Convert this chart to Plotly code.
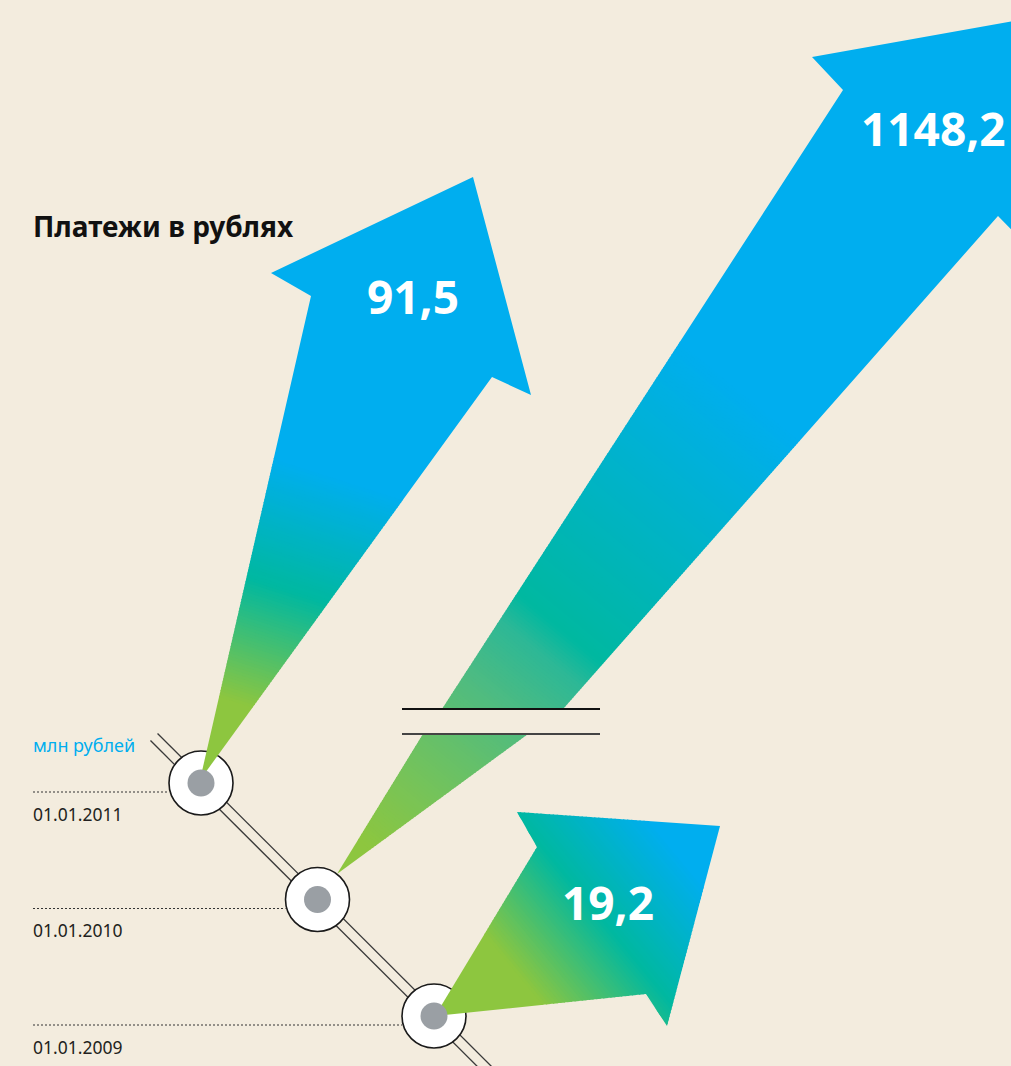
import plotly.graph_objects as go

# ---------------- data ----------------
TITLE = "Платежи в рублях"
UNIT = "млн рублей"
DATES = ["01.01.2009", "01.01.2010", "01.01.2011"]
VALUES = [19.2, 1148.2, 91.5]
VALUE_LABELS = [f"{v:.1f}".replace(".", ",") for v in VALUES]

# ---------------- style ----------------
W, H = 1011, 1066
BG = "#F3ECDE"
GREEN, TEAL, BLUE = "#8DC63F", "#00B8A0", "#00AEEF"
INK = "#231F20"
FONT = "Noto Sans"

# timeline: index 0 (first date) is the lowest circle; each later date steps up-left
TL_ORIGIN = (434.0, 1016.0)
TL_STEP = (-116.5, -116.5)
R_OUT, R_IN = 32, 13.5

# arrow templates: offsets from each date's timeline point
ARROWS = {
    "01.01.2011": dict(
        polys=[[(-1, -3), (110, -487), (70, -510), (272, -606), (330, -388), (291, -406)]],
        origin=(-1, -3), u=(0.305, -0.952),
        stops=[(0, GREEN), (85, GREEN), (207, TEAL), (330, BLUE)],
        label=(212, -487), top=True),
    "01.01.2010": dict(
        polys=[[(19.5, -25.5), (105.5, -165.5), (210.5, -165.5)],
               [(124.5, -190.5), (525.5, -809.5), (494.5, -842.5), (772, -892),
                (742, -621), (680.5, -683.5), (245.5, -190.5)]],
        origin=(19.5, -25.5), u=(0.636, -0.772),
        stops=[(0, GREEN), (40, GREEN), (124, "#75C35A"), (238, "#4DBB82"),
               (300, "#2DB896"), (331, TEAL), (630, BLUE)],
        label=(615.5, -771.5), top=False,
        brk=dict(x0=84.5, x1=282.5, y=(-190.5, -165.5))),
    "01.01.2009": dict(
        polys=[[(1, 0), (103, -169), (83, -204), (286, -190), (233, 10), (212, -22)]],
        origin=(1, 0), u=(0.771, -0.637),
        stops=[(0, GREEN), (90, GREEN), (190, TEAL), (290, BLUE)],
        label=(173.5, -114), top=True),
}


def hex2rgb(h):
    h = h.lstrip("#")
    return tuple(int(h[i:i + 2], 16) for i in (0, 2, 4))


def color_at(s, stops):
    if s <= stops[0][0]:
        return stops[0][1]
    if s >= stops[-1][0]:
        return stops[-1][1]
    for (s0, c0), (s1, c1) in zip(stops[:-1], stops[1:]):
        if s0 <= s <= s1:
            t = 0 if s1 == s0 else (s - s0) / (s1 - s0)
            a, b = hex2rgb(c0), hex2rgb(c1)
            r = [round(a[i] + (b[i] - a[i]) * t) for i in range(3)]
            return "rgb(%d,%d,%d)" % tuple(r)
    return stops[-1][1]


def clip_half(poly, o, u, c, keep_ge):
    def f(p):
        s = (p[0] - o[0]) * u[0] + (p[1] - o[1]) * u[1]
        return s - c if keep_ge else c - s
    out = []
    n = len(poly)
    for i in range(n):
        P, Q = poly[i], poly[(i + 1) % n]
        fp, fq = f(P), f(Q)
        if fp >= 0:
            out.append(P)
        if (fp >= 0) != (fq >= 0):
            t = fp / (fp - fq)
            out.append((P[0] + t * (Q[0] - P[0]), P[1] + t * (Q[1] - P[1])))
    return out


def path_of(poly):
    return "M " + " L ".join("%.2f,%.2f" % p for p in poly) + " Z"


def gradient_shapes(poly, o, u, stops, step=3.0):
    proj = [(p[0] - o[0]) * u[0] + (p[1] - o[1]) * u[1] for p in poly]
    smin, smax = min(proj) - 1, max(proj) + 1
    g0, g1 = stops[1][0], stops[-1][0]
    edges = [smin]
    s = max(g0, smin)
    while s < min(g1, smax):
        edges.append(s)
        s += step
    edges.append(smax)
    edges = sorted(set(edges))
    shapes = []
    for a, b in zip(edges[:-1], edges[1:]):
        piece = clip_half(poly, o, u, a, True)
        if len(piece) < 3:
            continue
        piece = clip_half(piece, o, u, b + 1.0, False)
        if len(piece) < 3:
            continue
        col = color_at((a + b) / 2, stops)
        shapes.append(dict(type="path", path=path_of(piece), xref="x", yref="y",
                           fillcolor=col, line=dict(width=0), layer="above"))
    return shapes


pos = {d: (TL_ORIGIN[0] + i * TL_STEP[0], TL_ORIGIN[1] + i * TL_STEP[1])
       for i, d in enumerate(DATES)}

shapes, annotations = [], []

# double diagonal timeline
first, last = pos[DATES[-1]], pos[DATES[0]]
for off in (-5, 5):
    dx, dy = off / 2 ** 0.5, -off / 2 ** 0.5
    shapes.append(dict(type="line", xref="x", yref="y",
                       x0=first[0] - 47 + dx, y0=first[1] - 46 + dy,
                       x1=last[0] + 56 + dx, y1=last[1] + 56 + dy,
                       line=dict(color="#3a3a3a", width=1.3), layer="above"))

# dotted leader lines and date labels
for d in DATES:
    cx, cy = pos[d]
    shapes.append(dict(type="line", xref="x", yref="y", x0=33, x1=cx - R_OUT,
                       y0=cy + 9, y1=cy + 9,
                       line=dict(color="#333333", width=1, dash="2px,2px"), layer="above"))
    annotations.append(dict(x=31, y=cy + 30.5, xref="x", yref="y", text=d, showarrow=False,
                            xanchor="left", yanchor="middle",
                            font=dict(family=FONT, size=17.5, color=INK)))


def arrow_shapes(d):
    a = ARROWS[d]
    cx, cy = pos[d]
    o = (cx + a["origin"][0], cy + a["origin"][1])
    out = []
    for poly in a["polys"]:
        abs_poly = [(cx + px, cy + py) for px, py in poly]
        out += gradient_shapes(abs_poly, o, a["u"], a["stops"])
    return out


# arrows behind the circles
for d in DATES:
    if not ARROWS[d]["top"]:
        shapes += arrow_shapes(d)
        b = ARROWS[d].get("brk")
        if b:
            cx, cy = pos[d]
            for yy, col in zip(b["y"], ("#111111", "#444444")):
                shapes.append(dict(type="line", xref="x", yref="y",
                                   x0=cx + b["x0"], x1=cx + b["x1"], y0=cy + yy, y1=cy + yy,
                                   line=dict(color=col, width=2), layer="above"))

# white rings
for d in DATES:
    cx, cy = pos[d]
    shapes.append(dict(type="circle", xref="x", yref="y",
                       x0=cx - R_OUT, x1=cx + R_OUT, y0=cy - R_OUT, y1=cy + R_OUT,
                       fillcolor="white", line=dict(color="#1a1a1a", width=1.6), layer="above"))

# arrows over the circles
for d in DATES:
    if ARROWS[d]["top"]:
        shapes += arrow_shapes(d)

# grey dots
for d in DATES:
    cx, cy = pos[d]
    shapes.append(dict(type="circle", xref="x", yref="y",
                       x0=cx - R_IN, x1=cx + R_IN, y0=cy - R_IN, y1=cy + R_IN,
                       fillcolor="#9A9FA4", line=dict(width=0), layer="above"))

# value labels
for d, lab in zip(DATES, VALUE_LABELS):
    cx, cy = pos[d]
    lx, ly = ARROWS[d]["label"]
    annotations.append(dict(x=cx + lx, y=cy + ly, xref="x", yref="y", text=lab,
                            showarrow=False, xanchor="center", yanchor="middle",
                            font=dict(family=FONT, size=46, color="white", weight="bold")))

# title and unit
annotations.append(dict(x=31, y=226, xref="x", yref="y", text=TITLE, showarrow=False,
                        xanchor="left", yanchor="middle",
                        font=dict(family=FONT, size=28, color="#111111", weight="bold")))
c_top = pos[DATES[-1]]
annotations.append(dict(x=31, y=c_top[1] - 38, xref="x", yref="y", text=UNIT,
                        showarrow=False, xanchor="left", yanchor="middle",
                        font=dict(family=FONT, size=18, color=BLUE)))

fig = go.Figure()
fig.add_trace(go.Scatter(x=[0, W], y=[0, H], mode="markers",
                         marker=dict(opacity=0), hoverinfo="skip", showlegend=False))
fig.update_layout(
    width=W, height=H, margin=dict(l=0, r=0, t=0, b=0),
    paper_bgcolor=BG, plot_bgcolor=BG,
    xaxis=dict(range=[0, W], visible=False, fixedrange=True),
    yaxis=dict(range=[H, 0], visible=False, fixedrange=True),
    shapes=shapes, annotations=annotations, showlegend=False,
)
fig.write_html("out.html", config={"displayModeBar": False},
               post_script="document.body.style.margin='0';document.body.style.overflow='hidden';")
